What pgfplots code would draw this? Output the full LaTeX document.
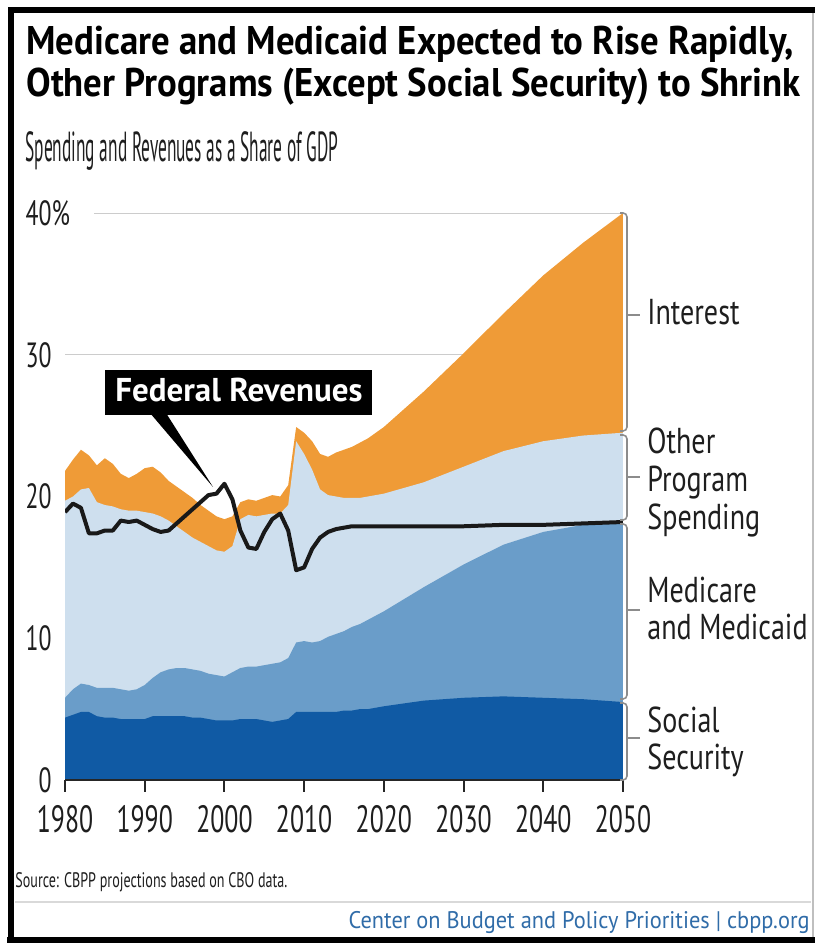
\documentclass[border=0pt]{standalone}
\usepackage{pgfplots}
\pgfplotsset{compat=1.18}
\usepackage{pgfplotstable}
\usepackage{fontspec}
\setmainfont{PT Sans}[FakeStretch=0.78]
\newfontfamily\tickfont{PT Sans}[FakeStretch=0.68]

\definecolor{ssblue}{RGB}{16,90,164}
\definecolor{mmblue}{RGB}{106,157,201}
\definecolor{opblue}{RGB}{206,223,238}
\definecolor{intorange}{RGB}{239,155,55}
\definecolor{txt}{RGB}{30,30,30}
\definecolor{footblue}{RGB}{48,108,168}

% shares of GDP, cumulative tops of each layer; rev = federal revenues
\pgfplotstableread{
year ss  mm   op   tot  rev
1980 4.4 5.8  19.7 21.8 18.9
1981 4.6 6.4  20.0 22.6 19.5
1982 4.8 6.8  20.5 23.3 19.2
1983 4.8 6.7  20.6 22.9 17.4
1984 4.5 6.5  19.6 22.2 17.4
1985 4.4 6.5  19.4 22.7 17.6
1986 4.4 6.5  19.3 22.3 17.6
1987 4.3 6.4  19.1 21.6 18.3
1988 4.3 6.3  19.0 21.3 18.2
1989 4.3 6.4  19.0 21.6 18.3
1990 4.3 6.7  18.9 22.0 18.0
1991 4.5 7.2  18.8 22.1 17.7
1992 4.5 7.6  18.6 21.7 17.5
1993 4.5 7.8  18.3 21.1 17.6
1994 4.5 7.9  17.9 20.7 18.1
1995 4.5 7.9  17.5 20.3 18.6
1996 4.4 7.8  17.1 19.9 19.1
1997 4.4 7.7  16.8 19.4 19.6
1998 4.3 7.5  16.5 19.0 20.1
1999 4.2 7.4  16.2 18.6 20.2
2000 4.2 7.3  16.1 18.4 20.9
2001 4.2 7.6  16.5 18.6 19.8
2002 4.3 7.9  18.4 19.6 17.6
2003 4.3 8.0  18.7 19.8 16.4
2004 4.3 8.0  18.6 19.7 16.3
2005 4.2 8.1  18.7 19.9 17.5
2006 4.1 8.2  18.8 20.1 18.4
2007 4.2 8.3  18.8 20.0 18.8
2008 4.3 8.6  19.4 20.8 17.6
2009 4.8 9.7  23.9 24.9 14.8
2010 4.8 9.8  23.0 24.5 15.0
2011 4.8 9.7  21.9 23.9 16.3
2012 4.8 9.8  20.5 23.0 17.1
2013 4.8 10.1 20.1 22.8 17.5
2014 4.8 10.3 20.0 23.1 17.7
2015 4.9 10.5 19.9 23.3 17.8
2016 4.9 10.8 19.9 23.5 17.9
2017 5.0 11.0 19.9 23.8 17.9
2018 5.0 11.3 20.0 24.1 17.9
2019 5.1 11.6 20.1 24.5 17.9
2020 5.2 11.9 20.2 24.9 17.9
2025 5.6 13.6 21.0 27.4 17.9
2030 5.8 15.2 22.1 30.1 17.9
2035 5.9 16.6 23.2 32.9 18.0
2040 5.8 17.5 23.9 35.6 18.0
2045 5.7 18.0 24.3 37.9 18.1
2050 5.5 18.2 24.5 40.0 18.2
}\spend

\begin{document}
\begin{tikzpicture}
\useasboundingbox (0,0) rectangle (407.5pt,471.5pt);

\begin{axis}[
    at={(32.5pt,81.5pt)}, anchor=south west,
    scale only axis, width=279pt, height=283.5pt,
    xmin=1980, xmax=2050, ymin=0, ymax=40,
    axis on top,
    axis x line*=bottom, axis y line*=left,
    x axis line style={-, line width=1.2pt, black!85},
    y axis line style={draw=none},
    xtick={1980,1990,...,2050},
    xticklabels={1980,1990,2000,2010,2020,2030,2040,2050},
    ytick={0,10,20,30,40},
    yticklabels={0,10,20,30,40\rlap{\%}},
    tick align=outside, major tick length=6pt,
    xtick style={line width=1pt, black!85},
    ytick style={draw=none},
    xticklabel style={font=\tickfont\fontsize{19}{19}\selectfont, text=txt, anchor=north, inner sep=0pt, yshift=-6.5pt},
    yticklabel style={font=\tickfont\fontsize{17.5}{17.5}\selectfont, text=txt, anchor=east, inner sep=0pt, xshift=-0.5pt},
]
\draw[black!20, line width=0.7pt] (axis cs:1980,30) -- (axis cs:2050.5,30);
\draw[black!20, line width=0.7pt] (axis cs:1983.6,40) -- (axis cs:2050.5,40);

\addplot[fill=intorange, draw=none] table[x=year, y=tot] {\spend} \closedcycle;
\addplot[fill=opblue, draw=none] table[x=year, y=op] {\spend} \closedcycle;
\addplot[fill=mmblue, draw=none] table[x=year, y=mm] {\spend} \closedcycle;
\addplot[fill=ssblue, draw=none] table[x=year, y=ss] {\spend} \closedcycle;
\addplot[black!90, line width=2pt, line join=round] table[x=year, y=rev] {\spend};
\end{axis}

% annotations, coordinates in pixels of the 815x943 frame (y downwards)
\begin{scope}[shift={(0pt,471.5pt)}, x=0.5pt, y=-0.5pt]
  % frame
  \draw[black, line width=3pt] (11,940) -- (11,10) -- (815,10);
  \draw[black, line width=3pt] (7,940) -- (815,940);
  \draw[black!25, line width=0.6pt] (813,13) -- (813,937);
  \draw[black!15, line width=0.8pt] (15,902) -- (811,902);

  % titles
  \node[anchor=base west, inner sep=0pt] at (26,55)
    {\resizebox{383.5pt}{\height}{\fontsize{20}{20}\selectfont\bfseries Medicare and Medicaid Expected to Rise Rapidly,}};
  \node[anchor=base west, inner sep=0pt] at (26,97)
    {\resizebox{387pt}{\height}{\fontsize{20}{20}\selectfont\bfseries Other Programs (Except Social Security) to Shrink}};
  \node[anchor=base west, inner sep=0pt, text=txt] at (25,162)
    {\resizebox{156.5pt}{\height}{\fontsize{21}{21}\selectfont Spending and Revenues as a Share of GDP}};

  % Federal Revenues callout
  \fill[black] (150,413) -- (166,413) -- (213,487) -- cycle;
  \fill[black] (105,370) rectangle (372,415);
  \node[anchor=base west, inner sep=0pt, text=white] at (115,402)
    {\resizebox{123.5pt}{\height}{\fontsize{16.5}{16.5}\selectfont\bfseries Federal Revenues}};

  % brackets on the right
  \begin{scope}[black!45, line width=0.8pt, rounded corners=2pt]
    \draw (620,213) -- (627,213) -- (627,431) -- (620,431);
    \draw (620,435) -- (627,435) -- (627,520) -- (620,520);
    \draw (620,524) -- (627,524) -- (627,699) -- (620,699);
    \draw (620,703) -- (627,703) -- (627,780) -- (620,780);
  \end{scope}
  \begin{scope}[black!45, line width=0.6pt]
    \draw (627,315) -- (640,315);
    \draw (627,477) -- (640,477);
    \draw (627,610) -- (640,610);
    \draw (627,738) -- (640,738);
  \end{scope}
  \begin{scope}[every node/.style={anchor=base west, inner sep=0pt, text=txt, font=\fontsize{18}{18}\selectfont}]
    \node at (647,325) {Interest};
    \node at (647,454) {Other};
    \node at (647,492) {Program};
    \node at (647,530) {Spending};
    \node at (647,603) {Medicare};
    \node at (647,640) {and Medicaid};
    \node at (647,733) {Social};
    \node at (647,770) {Security};
  \end{scope}

  % source and footer
  \node[anchor=base west, inner sep=0pt, text=txt] at (15,888)
    {\resizebox{136pt}{\height}{\fontsize{10.5}{10.5}\selectfont Source: CBPP projections based on CBO data.}};
  \node[anchor=base east, inner sep=0pt, text=footblue] at (810,928)
    {\resizebox{230.5pt}{\height}{\fontsize{12}{12}\selectfont Center on Budget and Policy Priorities | cbpp.org}};
\end{scope}
\end{tikzpicture}
\end{document}
